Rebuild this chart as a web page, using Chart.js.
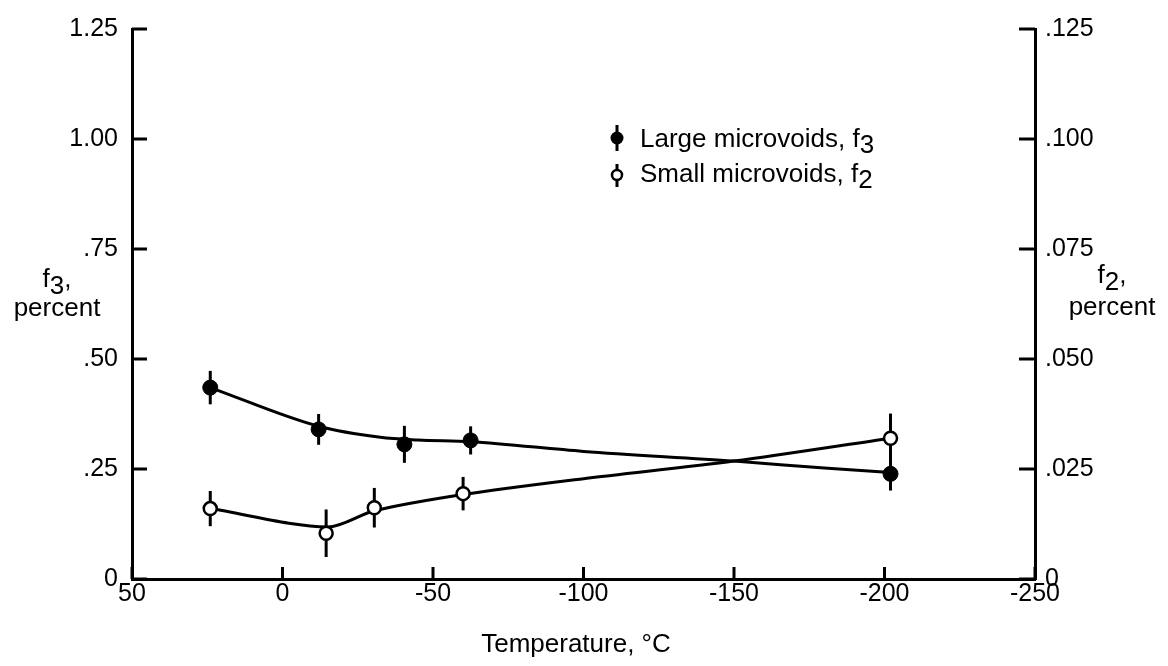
<!DOCTYPE html>
<html>
<head>
<meta charset="utf-8">
<script src="https://cdn.jsdelivr.net/npm/chart.js@4/dist/chart.umd.min.js"></script>
<style>
html, body { margin: 0; padding: 0; background: #fff; }
#wrap { width: 1168px; height: 666px; }
</style>
</head>
<body>
<div id="wrap"><canvas id="myChart" width="1168" height="666"></canvas></div>
<script>
// measured points, large microvoids (left axis, f3)
const largeTemps = [24, -12, -40.5, -62.5, -202];
const largeValues = [0.435, 0.34, 0.306, 0.315, 0.239];
const largeErrors = [0.038, 0.035, 0.042, 0.032, 0.038];

// measured points, small microvoids (right axis, f2)
const smallTemps = [24, -14.5, -30.5, -60, -202];
const smallValues = [0.016, 0.0104, 0.0162, 0.0194, 0.032];
const smallErrors = [0.004, 0.0054, 0.0045, 0.0038, 0.0056];

// faired curves
const largeCurveTemps = [24, -12, -32.5, -45, -62.5, -100, -150, -180, -202];
const largeCurveValues = [0.435, 0.347, 0.322, 0.316, 0.312, 0.29, 0.268, 0.252, 0.242];
const smallCurveTemps = [24, -15, -30.5, -60, -100, -150, -202];
const smallCurveValues = [0.016, 0.0118, 0.0155, 0.0192, 0.0228, 0.0268, 0.032];

const xTicks = [50, 0, -50, -100, -150, -200, -250];
const xTickLabels = ["50", "0", "-50", "-100", "-150", "-200", "-250"];
const leftTicks = [0, 0.25, 0.5, 0.75, 1.0, 1.25];
const leftTickLabels = ["0", ".25", ".50", ".75", "1.00", "1.25"];
const rightTicks = [0, 0.025, 0.05, 0.075, 0.1, 0.125];
const rightTickLabels = ["0", ".025", ".050", ".075", ".100", ".125"];

const FONT = "'Liberation Sans', Arial, sans-serif";
const FSIZE = 25;
const TSIZE = 26;

Chart.defaults.font.family = FONT;
Chart.defaults.font.size = FSIZE;
Chart.defaults.color = "#000";

function toPoints(xs, ys) {
    return xs.map((x, i) => ({ x: x, y: ys[i] }));
}

// draw text pieces, some shifted down as subscripts
function drawPieces(ctx, pieces, x, y, align) {
    ctx.font = TSIZE + "px " + FONT;
    let total = 0;
    pieces.forEach(p => { total += ctx.measureText(p[0]).width; });
    let cx = align === "center" ? x - total / 2 : x;
    ctx.textAlign = "left";
    ctx.textBaseline = "alphabetic";
    pieces.forEach(p => {
        ctx.fillText(p[0], cx, y + p[1]);
        cx += ctx.measureText(p[0]).width;
    });
}

const errorBars = {
    id: "errorBars",
    beforeDatasetsDraw(chart) {
        const ctx = chart.ctx;
        const x = chart.scales.x;
        ctx.save();
        ctx.strokeStyle = "#000";
        ctx.lineWidth = 3;
        [[largeTemps, largeValues, largeErrors, chart.scales.y],
         [smallTemps, smallValues, smallErrors, chart.scales.y2]].forEach(set => {
            const [ts, vs, es, sc] = set;
            for (let i = 0; i < ts.length; i++) {
                const px = x.getPixelForValue(ts[i]);
                ctx.beginPath();
                ctx.moveTo(px, sc.getPixelForValue(vs[i] - es[i]));
                ctx.lineTo(px, sc.getPixelForValue(vs[i] + es[i]));
                ctx.stroke();
            }
        });
        ctx.restore();
    }
};

const decorations = {
    id: "decorations",
    afterDraw(chart) {
        const ctx = chart.ctx;
        const a = chart.chartArea;
        const sx = chart.scales.x, sy = chart.scales.y, sy2 = chart.scales.y2;
        ctx.save();
        ctx.strokeStyle = "#000";
        ctx.fillStyle = "#000";
        ctx.lineWidth = 3;

        // inward tick marks
        ctx.beginPath();
        leftTicks.forEach(v => {
            const py = sy.getPixelForValue(v);
            ctx.moveTo(a.left, py);
            ctx.lineTo(a.left + 15, py);
        });
        rightTicks.forEach(v => {
            const py = sy2.getPixelForValue(v);
            ctx.moveTo(a.right, py);
            ctx.lineTo(a.right - 16, py);
        });
        xTicks.forEach(v => {
            const px = sx.getPixelForValue(v);
            ctx.moveTo(px, a.bottom);
            ctx.lineTo(px, a.bottom - 12);
        });
        ctx.stroke();

        // axis titles
        drawPieces(ctx, [["f", 0], ["3", 7], [",", 0]], 57, 287, "center");
        drawPieces(ctx, [["percent", 0]], 57, 316, "center");
        drawPieces(ctx, [["f", 0], ["2", 7], [",", 0]], 1112, 283, "center");
        drawPieces(ctx, [["percent", 0]], 1112, 315, "center");
        drawPieces(ctx, [["Temperature, °C", 0]], 576, 652, "center");

        // legend
        ctx.lineWidth = 3;
        ctx.beginPath();
        ctx.moveTo(617, 125); ctx.lineTo(617, 151);
        ctx.moveTo(617, 164); ctx.lineTo(617, 187);
        ctx.stroke();
        ctx.beginPath();
        ctx.arc(617, 138, 6.5, 0, Math.PI * 2);
        ctx.fill();
        ctx.beginPath();
        ctx.arc(617, 175, 5, 0, Math.PI * 2);
        ctx.fillStyle = "#fff";
        ctx.fill();
        ctx.lineWidth = 2.5;
        ctx.stroke();
        ctx.fillStyle = "#000";
        drawPieces(ctx, [["Large microvoids, f", 0], ["3", 6]], 640, 147, "left");
        drawPieces(ctx, [["Small microvoids, f", 0], ["2", 6]], 640, 182, "left");
        ctx.restore();
    }
};

const myChart = new Chart(document.getElementById("myChart"), {
    type: "scatter",
    data: {
        datasets: [{
            label: "Large microvoids, f3",
            data: toPoints(largeTemps, largeValues),
            yAxisID: "y",
            pointRadius: 7.5,
            pointBackgroundColor: "#000",
            pointBorderColor: "#000",
            pointBorderWidth: 1,
        }, {
            label: "Small microvoids, f2",
            data: toPoints(smallTemps, smallValues),
            yAxisID: "y2",
            pointRadius: 6.5,
            pointBackgroundColor: "#fff",
            pointBorderColor: "#000",
            pointBorderWidth: 2.5,
        }, {
            label: "f3 curve",
            data: toPoints(largeCurveTemps, largeCurveValues),
            yAxisID: "y",
            showLine: true,
            pointRadius: 0,
            borderColor: "#000",
            borderWidth: 3,
            cubicInterpolationMode: "monotone",
        }, {
            label: "f2 curve",
            data: toPoints(smallCurveTemps, smallCurveValues),
            yAxisID: "y2",
            showLine: true,
            pointRadius: 0,
            borderColor: "#000",
            borderWidth: 3,
            tension: 0.3,
        }]
    },
    options: {
        responsive: false,
        animation: false,
        layout: { padding: { top: 22, left: 0, right: 0, bottom: 0 } },
        plugins: {
            legend: { display: false },
            tooltip: { enabled: false },
        },
        scales: {
            x: {
                type: "linear",
                reverse: true,
                min: -250,
                max: 50,
                afterBuildTicks: s => { s.ticks = xTicks.map(v => ({ value: v })); },
                afterFit: s => { s.height = 87; },
                grid: { drawOnChartArea: false, drawTicks: false },
                border: { display: true, color: "#000", width: 3 },
                ticks: {
                    autoSkip: false,
                    maxRotation: 0,
                    padding: 0,
                    callback: v => xTickLabels[xTicks.indexOf(v)],
                },
            },
            y: {
                position: "left",
                min: 0,
                max: 1.25,
                afterBuildTicks: s => { s.ticks = leftTicks.map(v => ({ value: v })); },
                afterFit: s => { s.width = 132; },
                grid: { drawOnChartArea: false, drawTicks: false },
                border: { display: true, color: "#000", width: 3 },
                ticks: {
                    padding: 14,
                    callback: v => leftTickLabels[leftTicks.indexOf(v)],
                },
            },
            y2: {
                position: "right",
                min: 0,
                max: 0.125,
                afterBuildTicks: s => { s.ticks = rightTicks.map(v => ({ value: v })); },
                afterFit: s => { s.width = 133; },
                grid: { drawOnChartArea: false, drawTicks: false },
                border: { display: true, color: "#000", width: 3 },
                ticks: {
                    padding: 10,
                    callback: v => rightTickLabels[rightTicks.indexOf(v)],
                },
            },
        },
    },
    plugins: [errorBars, decorations],
});
</script>
</body>
</html>
